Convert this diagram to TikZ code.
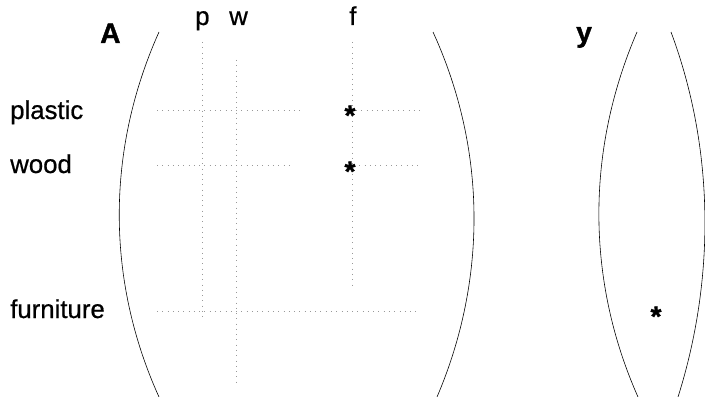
\documentclass[tikz,border=0pt]{standalone}
\usepackage{fontspec}
\setmainfont{Liberation Sans}
\newfontfamily\lblfont[FakeBold=0.7]{Liberation Sans}
\newfontfamily\matfont[FakeBold=1.2]{Liberation Sans Bold}
\begin{document}
\begin{tikzpicture}[
    x=0.03cm, y=-0.03cm,
    lbl/.style={inner sep=0pt, anchor=base west, font=\fontsize{22}{26}\lblfont},
    mat/.style={inner sep=0pt, anchor=base west, font=\fontsize{24}{28}\matfont},
    entry/.style={inner sep=0pt, anchor=base, font=\fontsize{24}{28}\matfont},
    grid/.style={gray!80, line width=0.4pt, dash pattern=on 0.5pt off 4pt},
    paren/.style={black, line width=0.5pt}
]
    \useasboundingbox (0,0) rectangle (705,397);

    % Titres des matrices
    \node[mat] (A) at (100,43) {A};
    \node[mat] (y) at (576,42) {y};

    % Colonnes
    \node[lbl] (cp) at (195,25) {p};
    \node[lbl] (cw) at (229,25) {w};
    \node[lbl] (cf) at (349,25) {f};

    % Lignes
    \node[lbl] (rplastic) at (10,119) {plastic};
    \node[lbl] (rwood) at (10,173) {wood};
    \node[lbl] (rfurn) at (10,318) {furniture};

    % Points de la grille
    \coordinate (hpl1) at (157,110); \coordinate (hpl2) at (303,110);
    \coordinate (hpl3) at (356,110); \coordinate (hpl4) at (420,110);
    \coordinate (hwo1) at (157,165); \coordinate (hwo2) at (293,165);
    \coordinate (hwo3) at (354,165); \coordinate (hwo4) at (420,165);
    \coordinate (hfu1) at (157,311); \coordinate (hfu2) at (420,311);
    \coordinate (vp1) at (202,42);   \coordinate (vp2) at (202,318);
    \coordinate (vw1) at (236,60);   \coordinate (vw2) at (236,385);
    \coordinate (vf1) at (352,42);   \coordinate (vf2) at (352,285);

    % Grille en pointill\'es
    \draw[grid] (hpl1) -- (hpl2);
    \draw[grid] (hpl3) -- (hpl4);
    \draw[grid] (hwo1) -- (hwo2);
    \draw[grid] (hwo3) -- (hwo4);
    \draw[grid] (hfu1) -- (hfu2);
    \draw[grid] (vp1) -- (vp2);
    \draw[grid] (vw1) -- (vw2);
    \draw[grid] (vf1) -- (vf2);

    % Entr\'ees non nulles
    \node[entry] (a1) at (350,125) {*};
    \node[entry] (a2) at (350,181) {*};
    \node[entry] (y1) at (656,326) {*};

    % Parenth\`eses
    \draw[paren] (159,32) .. controls (106,150) and (106,280) .. (159,397);
    \draw[paren] (433,32) .. controls (487,150) and (487,280) .. (437,397);
    \draw[paren] (637,32) .. controls (586,150) and (586,280) .. (638,397);
    \draw[paren] (671,32) .. controls (715,150) and (715,280) .. (678,397);
\end{tikzpicture}
\end{document}
